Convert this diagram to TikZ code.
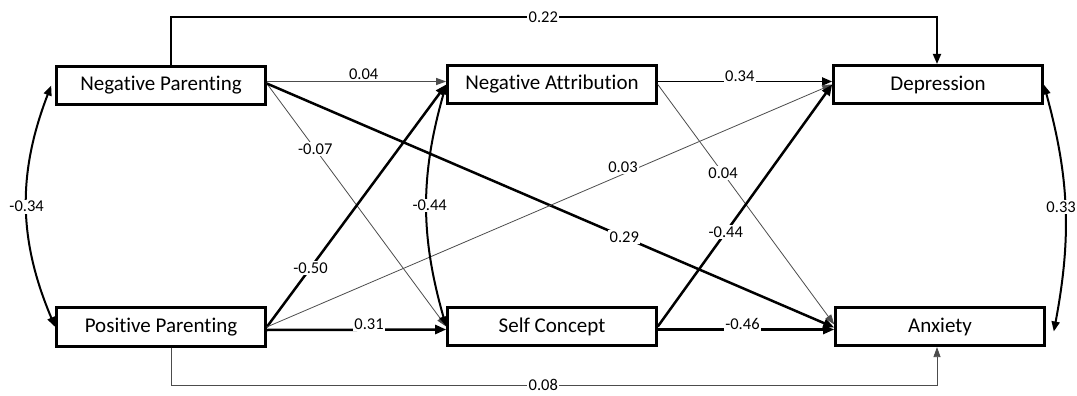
\documentclass[tikz,border=0pt]{standalone}
\usepackage{fontspec}
\setmainfont[Ligatures=NoCommon]{Carlito}
\usetikzlibrary{arrows.meta}
\begin{document}
\begin{tikzpicture}[x=1pt,y=-1pt,
  box/.style={draw,line width=2.6pt,fill=white,minimum width=209pt,minimum height=38.5pt,inner sep=0pt,font=\fontsize{21}{25}\selectfont},
  lbl/.style={fill=white,inner sep=1.5pt,font=\fontsize{16.5}{19}\selectfont,text=black},
  thickarr/.style={line width=2.5pt,-{Triangle[length=11pt,width=9pt]}},
  medarr/.style={line width=1.8pt,-{Triangle[length=10pt,width=8pt]}},
  thinarr/.style={line width=0.8pt,black!70,-{Triangle[length=10pt,width=7pt]}},
  cov/.style={line width=2pt,{Triangle[length=10pt,width=8pt]}-{Triangle[length=10pt,width=8pt]}}
]
\useasboundingbox (0,0) rectangle (1077,396);
\node[box] (NP) at (161,85.5) {Negative Parenting};
\node[box] (PP) at (161,327) {Positive Parenting};
\node[box] (NA) at (552,84.5) {Negative Attribution};
\node[box] (SC) at (552,326.5) {Self Concept};
\node[box] (Dep) at (938,84.5) {Depression};
\node[box] (Anx) at (940,326.5) {Anxiety};

\draw[medarr] ([xshift=10pt]NP.north) -- ++(0,-48) -| node[lbl,pos=0.243]{0.22} ([xshift=-1pt]Dep.north);
\draw[thinarr] ([xshift=10pt]PP.south) -- ++(0,37.5) -| node[lbl,pos=0.243]{0.08} ([xshift=-3pt]Anx.south);

\draw[thinarr] ([yshift=4pt]NP.east) -- node[lbl,pos=0.54,yshift=7pt]{0.04} ([yshift=3pt]NA.west);
\draw[thinarr] ([yshift=2pt]NP.east) -- node[lbl,pos=0.27]{-0.07} (SC.west);
\draw[thickarr] ([yshift=2pt]NP.east) -- node[lbl,pos=0.63]{0.29} ([yshift=-1pt]Anx.west);
\draw[medarr] ([yshift=3pt]NA.east) -- node[lbl,pos=0.47,yshift=5pt]{0.34} ([yshift=3pt]Dep.west);
\draw[thinarr] (NA.east) -- node[lbl,pos=0.37]{0.04} ([yshift=2pt]Anx.west);
\draw[thickarr] (PP.east) -- node[lbl,pos=0.244]{-0.50} (NA.west);
\draw[thinarr] (PP.east) -- node[lbl,pos=0.63,yshift=7pt]{0.03} (Dep.west);
\draw[thickarr] ([yshift=-3pt]PP.east) -- node[lbl,pos=0.57,yshift=6pt]{0.31} ([yshift=-3pt]SC.west);
\draw[thickarr] (SC.east) -- node[lbl,pos=0.39]{-0.44} (Dep.west);
\draw[thickarr] ([yshift=-3pt]SC.east) -- node[lbl,pos=0.48,yshift=6pt]{-0.46} ([yshift=-3pt]Anx.west);

\draw[cov] ([xshift=-4pt]NP.west) to[bend right=22] node[lbl]{-0.34} (PP.west);
\draw[cov] (NA.west) to[bend right=16] node[lbl,xshift=3pt]{-0.44} (SC.west);
\draw[cov] (Dep.east) to[bend left=13] node[lbl,xshift=-4pt]{0.33} ([xshift=8pt,yshift=-5pt]Anx.east);
\end{tikzpicture}
\end{document}
